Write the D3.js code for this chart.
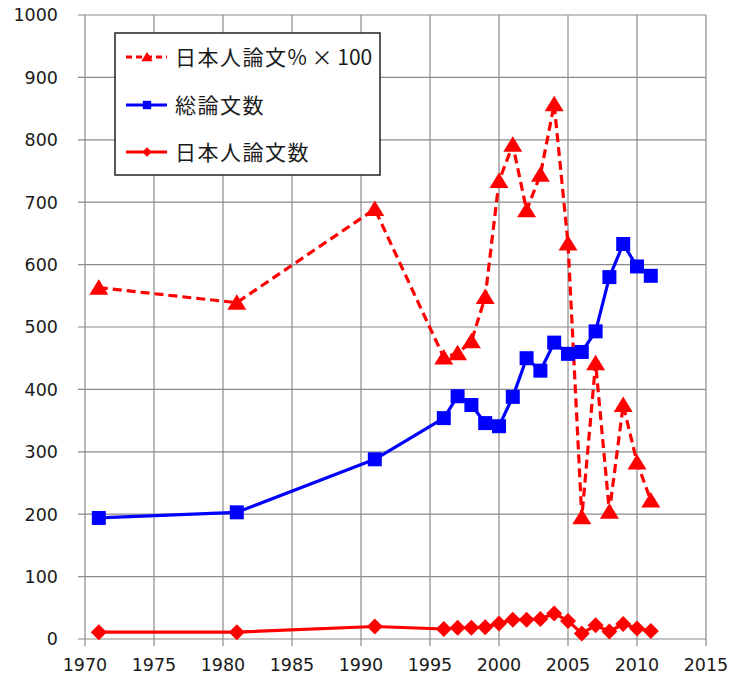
<!DOCTYPE html>
<html><head><meta charset="utf-8">
<script src="https://cdn.jsdelivr.net/npm/d3@7"></script>
<style>
html,body{margin:0;padding:0;background:#fff;}
svg{display:block;}
</style>
</head><body>
<div id="chart"></div>
<script>
// ---- data ----
const years = [1971, 1981, 1991, 1996, 1997, 1998, 1999, 2000, 2001, 2002, 2003, 2004, 2005, 2006, 2007, 2008, 2009, 2010, 2011];
const jpPct100 = [563, 539, 689, 451, 458, 477, 548, 734, 792, 687, 744, 857, 634, 195, 442, 204, 375, 283, 222];
const totalPapers = [194, 203, 288, 354, 389, 375, 346, 341, 388, 450, 430, 475, 457, 460, 493, 580, 633, 597, 582];
const jpPapers = [11, 11, 20, 16, 18, 18, 19, 25, 31, 31, 32, 41, 29, 9, 22, 12, 24, 17, 13];
const xTickLabels = [1970, 1975, 1980, 1985, 1990, 1995, 2000, 2005, 2010, 2015];
const yTickLabels = [0, 100, 200, 300, 400, 500, 600, 700, 800, 900, 1000];
const seriesNames = [["日本人論文", "% × 100"], ["総論文数", ""], ["日本人論文数", ""]];
const seriesColors = ["#ff0000", "#0000ff", "#ff0000"];

const W = 731, H = 680;
const svg = d3.select("#chart").append("svg").attr("width", W).attr("height", H);

const x = d3.scaleLinear().domain([1970, 2015]).range([85, 706]);
const y = d3.scaleLinear().domain([0, 1000]).range([639, 15]);

const grid = svg.append("g");
grid.selectAll("line.h").data(yTickLabels).join("line")
  .attr("x1", x(1970) - 7).attr("x2", x(2015))
  .attr("y1", d => y(d)).attr("y2", d => y(d))
  .attr("stroke", "#8a8a8a").attr("stroke-width", 1.2);
grid.selectAll("line.v").data(xTickLabels).join("line")
  .attr("x1", d => x(d)).attr("x2", d => x(d))
  .attr("y1", y(1000)).attr("y2", y(0) + 7)
  .attr("stroke", "#8a8a8a").attr("stroke-width", 1.2);

const font = "'DejaVu Sans', Verdana, sans-serif";
svg.append("g").selectAll("text").data(yTickLabels).join("text")
  .attr("x", 58).attr("y", d => y(d)).attr("dy", "0.36em")
  .attr("text-anchor", "end").attr("font-family", font).attr("font-size", 17.5)
  .attr("fill", "#1a1a1a").text(d => d);
svg.append("g").selectAll("text").data(xTickLabels).join("text")
  .attr("x", d => x(d)).attr("y", 671)
  .attr("text-anchor", "middle").attr("font-family", font).attr("font-size", 17.5)
  .attr("fill", "#1a1a1a").text(d => d);

function triPath(s) { return `M0,${-8.5*s}L${9.5*s},${7*s}L${-9.5*s},${7*s}Z`; }
function sqPath(s) { return `M${-7*s},${-7*s}H${7*s}V${7*s}H${-7*s}Z`; }
function diaPath(s) { return `M0,${-8*s}L${8*s},0L0,${8*s}L${-8*s},0Z`; }

const line = d3.line().x(d => x(d[0])).y(d => y(d[1]));
const series = [
  {vals: jpPct100, color: seriesColors[0], dash: "9,5", marker: triPath},
  {vals: totalPapers, color: seriesColors[1], dash: null, marker: sqPath},
  {vals: jpPapers, color: seriesColors[2], dash: null, marker: diaPath}
];
series.forEach(s => {
  const pts = years.map((yr, i) => [yr, s.vals[i]]);
  const g = svg.append("g");
  g.append("path").datum(pts).attr("d", line)
    .attr("fill", "none").attr("stroke", s.color).attr("stroke-width", 3.2)
    .attr("stroke-dasharray", s.dash).attr("stroke-linejoin", "round");
  g.selectAll("path.m").data(pts).join("path")
    .attr("transform", d => `translate(${x(d[0])},${y(d[1])})`)
    .attr("d", s.marker(1)).attr("fill", s.color);
});

// legend
const lg = svg.append("g");
lg.append("rect").attr("x", 115).attr("y", 33).attr("width", 265).attr("height", 142)
  .attr("fill", "#fff").attr("stroke", "#222").attr("stroke-width", 1.5);
const rowY = [57, 105, 152];
series.forEach((s, i) => {
  lg.append("line").attr("x1", 126).attr("x2", 167).attr("y1", rowY[i]).attr("y2", rowY[i])
    .attr("stroke", s.color).attr("stroke-width", 3.2).attr("stroke-dasharray", s.dash ? "6,4" : null);
  lg.append("path").attr("transform", `translate(147,${rowY[i]})`).attr("d", s.marker(0.6)).attr("fill", s.color);
  const t = lg.append("text").attr("x", 175).attr("y", rowY[i]).attr("dy", "0.36em")
    .attr("font-family", "'Noto Sans CJK JP', sans-serif").attr("font-size", 21)
    .attr("fill", "#1a1a1a");
  t.append("tspan").attr("letter-spacing", 1.5).text(seriesNames[i][0]);
  if (seriesNames[i][1]) t.append("tspan").attr("letter-spacing", 0).text(seriesNames[i][1]);
});
</script>
</body></html>
